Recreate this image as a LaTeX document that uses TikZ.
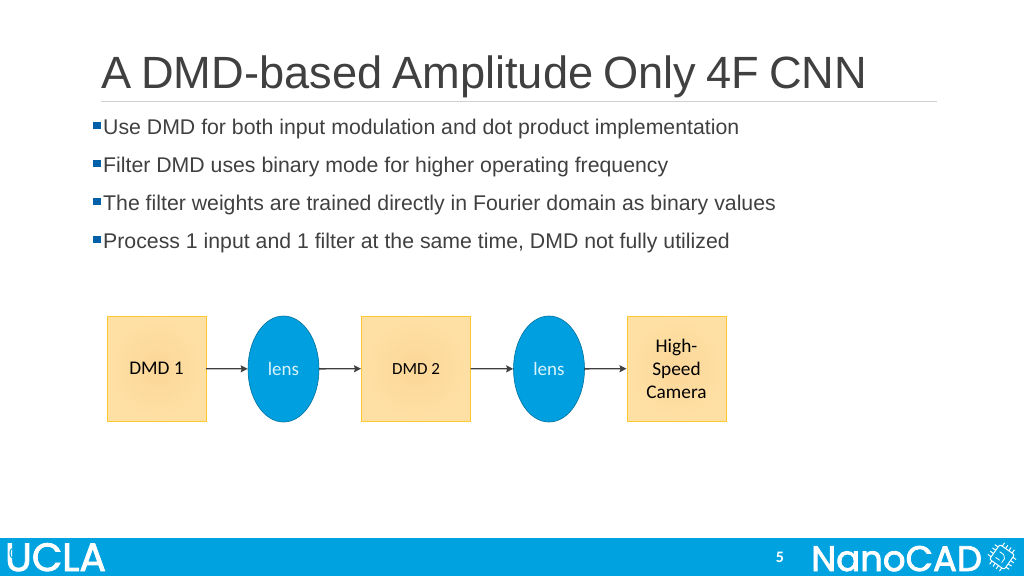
\documentclass[tikz,border=0pt]{standalone}
\usepackage{fontspec}
\setmainfont{Liberation Sans}
\newfontfamily\carlito{Carlito}
\newfontfamily\poppins[FakeBold=2.2]{Poppins}
\usetikzlibrary{shapes.geometric,arrows.meta}
\definecolor{txt}{HTML}{404040}
\definecolor{band}{HTML}{00A2E0}
\definecolor{lensblue}{HTML}{00A0E0}
\definecolor{boxedge}{HTML}{FFC830}
\definecolor{boxin}{HTML}{FBD698}
\definecolor{boxout}{HTML}{FFE0A4}
\definecolor{bul}{HTML}{0060A8}
\tikzset{
 x=1pt,y=-1pt,
 title/.style={anchor=base west,inner sep=0,text=txt,font=\fontsize{45.2}{50}\selectfont},
 item/.style={anchor=base west,inner sep=0,text=txt,font=\fontsize{21.27}{24}\selectfont},
 bullet/.style={fill=bul,draw=none,minimum size=7.5pt,inner sep=0},
 ybox/.style={rectangle,draw=boxedge,line width=1pt,inner color=boxin,outer color=boxout,inner sep=0,align=center,font=\carlito\fontsize{19.3}{23}\selectfont,text=black},
 lensnode/.style={ellipse,draw=lensblue!70!black,line width=.6pt,fill=lensblue,minimum width=71pt,minimum height=106pt,inner sep=0,text=white!85!cyan,font=\carlito\fontsize{19}{22}\selectfont},
 flow/.style={draw=black!75,line width=1.3pt,-{Stealth[length=7pt,width=7pt,inset=1pt]},shorten <=-.5pt},
 logo/.style={text=white,inner sep=0,anchor=base west}
}
\begin{document}
\begin{tikzpicture}
\useasboundingbox (0,0) rectangle (1024,576);
\fill[white] (0,0) rectangle (1024,576);
\node[title] (t) at (101,88) {\spaceskip=10pt\relax A DMD-based Amplitude Only 4F CNN};
\coordinate (ruleL) at (101,101);
\coordinate (ruleR) at (937,101);
\draw[black!18,line width=1pt] (ruleL) -- (ruleR);
\node[bullet] (b1) at (97,125.5) {};
\node[item] (i1) at (103,134) {Use DMD for both input modulation and dot product implementation};
\node[bullet] (b2) at (97,163.5) {};
\node[item] (i2) at (103,172) {Filter DMD uses binary mode for higher operating frequency};
\node[bullet] (b3) at (97,201.5) {};
\node[item] (i3) at (103,210) {The filter weights are trained directly in Fourier domain as binary values};
\node[bullet] (b4) at (97,239.5) {};
\node[item] (i4) at (103,248) {Process 1 input and 1 filter at the same time, DMD not fully utilized};
\node[ybox,minimum width=99pt,minimum height=105pt] (d1) at (156.5,368.5) {\raisebox{-1.5pt}{DMD 1}};
\node[lensnode] (l1) at (283.5,369) {\raisebox{-1pt}{lens}};
\node[ybox,minimum width=109pt,minimum height=105pt,font=\carlito\fontsize{17}{20}\selectfont] (d2) at (416,368.5) {DMD 2};
\node[lensnode] (l2) at (549,369) {\raisebox{-1pt}{lens}};
\node[ybox,minimum width=99pt,minimum height=105pt] (c) at (676.5,368.5) {\raisebox{-2pt}{\parbox{80pt}{\centering High-\\Speed\\Camera}}};
\draw[flow] (d1) -- (l1);
\draw[flow] (l1) -- (d2);
\draw[flow] (d2) -- (l2);
\draw[flow] (l2) -- (c);
\fill[band] (0,538) rectangle (1024,576);
\node[logo,font=\poppins\fontsize{39.5}{40}\selectfont] (ucla) at (5,571) {UCLA};
\node[inner sep=0,text=band,font=\fontsize{14}{14}\selectfont] (zero) at (13,554) {0};
\node[inner sep=0,text=white,font=\carlito\bfseries\fontsize{16}{16}\selectfont] (num) at (780,557) {5};
\node[logo,font=\poppins\fontsize{35.5}{36}\selectfont] (nano) at (811,571) {NanoCAD};
\begin{scope}[shift={(1002,557)},rotate=-35]
\draw[white,line width=1pt,rounded corners=2pt] (-9,-9) rectangle (9,9);
\draw[white,line width=.8pt] (-5,-3) -- (0,-3) -- (3,0) -- (3,5);
\draw[white,line width=.8pt] (-5,4) -- (0,4);
\foreach \s in {-6,-2,2,6}{
 \draw[white,line width=1pt] (\s,-9) -- (\s,-13);
 \draw[white,line width=1pt] (\s,9) -- (\s,13);
 \draw[white,line width=1pt] (-9,\s) -- (-13,\s);
 \draw[white,line width=1pt] (9,\s) -- (13,\s);
}
\end{scope}
\end{tikzpicture}
\end{document}
